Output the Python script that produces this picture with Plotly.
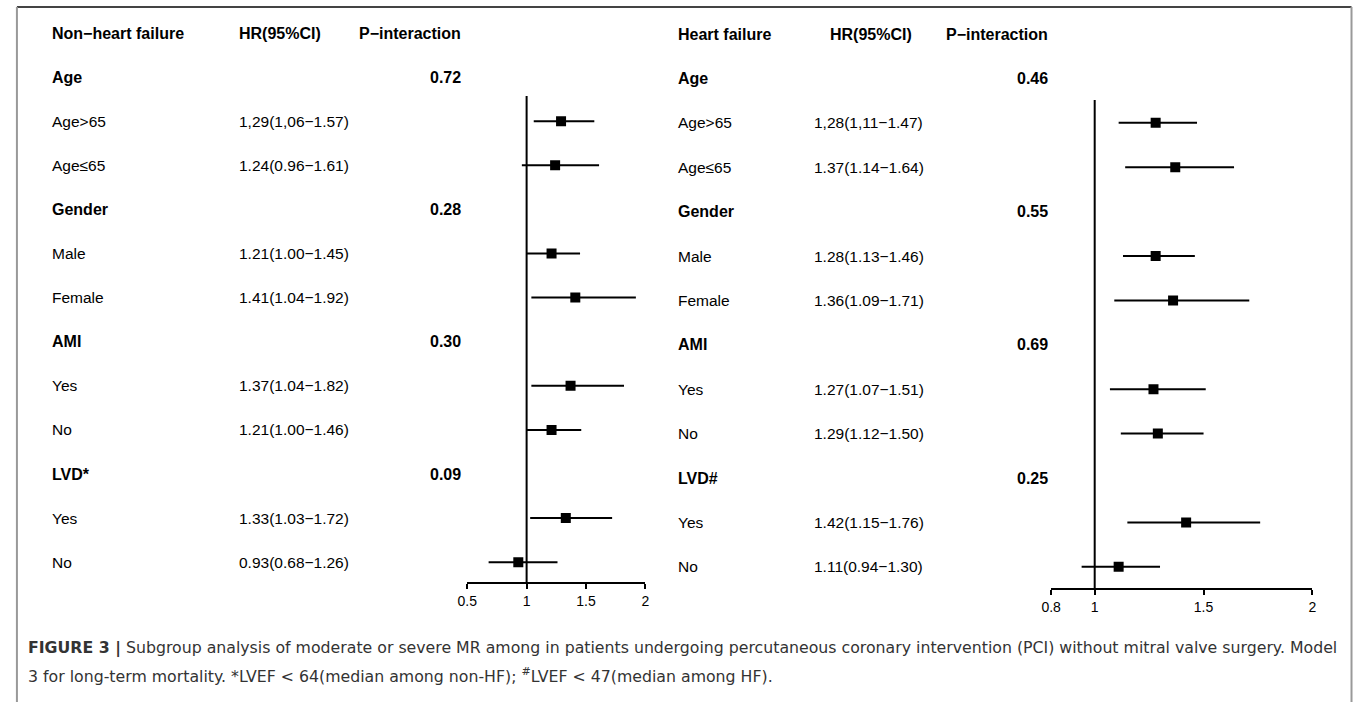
import plotly.graph_objects as go

W, H = 1357, 702

# ---------------- data ----------------
nhf_labels = ["Age", "Age>65", "Age≤65", "Gender", "Male", "Female", "AMI", "Yes", "No", "LVD*", "Yes", "No"]
nhf_is_header = [True, False, False, True, False, False, True, False, False, True, False, False]
nhf_hr_text = ["", "1,29(1,06−1.57)", "1.24(0.96−1.61)", "", "1.21(1.00−1.45)", "1.41(1.04−1.92)",
               "", "1.37(1.04−1.82)", "1.21(1.00−1.46)", "", "1.33(1.03−1.72)", "0.93(0.68−1.26)"]
nhf_p = ["0.72", "", "", "0.28", "", "", "0.30", "", "", "0.09", "", ""]
nhf_hr = [None, 1.29, 1.24, None, 1.21, 1.41, None, 1.37, 1.21, None, 1.33, 0.93]
nhf_lo = [None, 1.06, 0.96, None, 1.00, 1.04, None, 1.04, 1.00, None, 1.03, 0.68]
nhf_hi = [None, 1.57, 1.61, None, 1.45, 1.92, None, 1.82, 1.46, None, 1.72, 1.26]

hf_labels = ["Age", "Age>65", "Age≤65", "Gender", "Male", "Female", "AMI", "Yes", "No", "LVD#", "Yes", "No"]
hf_is_header = nhf_is_header
hf_hr_text = ["", "1,28(1,11−1.47)", "1.37(1.14−1.64)", "", "1.28(1.13−1.46)", "1.36(1.09−1.71)",
              "", "1.27(1.07−1.51)", "1.29(1.12−1.50)", "", "1.42(1.15−1.76)", "1.11(0.94−1.30)"]
hf_p = ["0.46", "", "", "0.55", "", "", "0.69", "", "", "0.25", "", ""]
hf_hr = [None, 1.28, 1.37, None, 1.28, 1.36, None, 1.27, 1.29, None, 1.42, 1.11]
hf_lo = [None, 1.11, 1.14, None, 1.13, 1.09, None, 1.07, 1.12, None, 1.15, 0.94]
hf_hi = [None, 1.47, 1.64, None, 1.46, 1.71, None, 1.51, 1.50, None, 1.76, 1.30]

nhf_ticks = [0.5, 1, 1.5, 2]
hf_ticks = [0.8, 1, 1.5, 2]

caption_1 = ("<b>FIGURE 3 |</b> Subgroup analysis of moderate or severe MR among in patients undergoing "
             "percutaneous coronary intervention (PCI) without mitral valve surgery. Model")
caption_2 = "3 for long-term mortality. *LVEF < 64(median among non-HF); <sup>#</sup>LVEF < 47(median among HF)."

# ---------------- layout helpers ----------------
FONT = "Liberation Sans, Arial, Helvetica, sans-serif"
CAP_FONT = "DejaVu Sans, Liberation Sans, Arial, sans-serif"


def px(x):
    return x / W


def py(y):
    return 1 - y / H


# row geometry (pixels): header row at y0, each row dy apart
L_Y0, L_DY = 33, 44.1
R_Y0, R_DY = 34, 44.4

fig = go.Figure()


def add_panel(hr, lo, hi, xa, ya):
    rows = [i + 1 for i, v in enumerate(hr) if v is not None]
    xs = [v for v in hr if v is not None]
    plus = [h - m for h, m in zip(hi, hr) if m is not None]
    minus = [m - l for l, m in zip(lo, hr) if m is not None]
    fig.add_trace(go.Scatter(
        x=xs, y=rows, mode="markers", xaxis=xa, yaxis=ya,
        marker=dict(symbol="square", size=10, color="black"),
        error_x=dict(type="data", symmetric=False, array=plus, arrayminus=minus,
                     thickness=2, width=0, color="black"),
        showlegend=False, hoverinfo="x+y"))


add_panel(nhf_hr, nhf_lo, nhf_hi, "x", "y")
add_panel(hf_hr, hf_lo, hf_hi, "x2", "y2")

axis_common = dict(showgrid=False, zeroline=False, showline=True, linecolor="black", linewidth=2,
                   ticks="outside", ticklen=5, tickwidth=2, tickcolor="black",
                   tickfont=dict(family=FONT, size=14, color="black"), anchor="free")

fig.update_layout(
    width=W, height=H, margin=dict(l=0, r=0, t=0, b=0),
    paper_bgcolor="white", plot_bgcolor="rgba(0,0,0,0)",
    xaxis=dict(domain=[px(462), px(642)], range=[0.5, 2], tickvals=nhf_ticks,
               ticktext=[str(t) for t in nhf_ticks], position=py(583), **axis_common),
    xaxis2=dict(domain=[px(1052), px(1316)], range=[0.8, 2], tickvals=hf_ticks,
                ticktext=[str(t) for t in hf_ticks], position=py(589), **axis_common),
    yaxis=dict(domain=[0, 1], range=[(H - L_Y0) / L_DY, -L_Y0 / L_DY], visible=False),
    yaxis2=dict(domain=[0, 1], range=[(H - R_Y0) / R_DY, -R_Y0 / R_DY], visible=False,
                overlaying="y", anchor="x2"),
)

# reference lines at HR = 1
fig.add_shape(type="line", xref="x", yref="paper", x0=1, x1=1, y0=py(583), y1=py(96),
              line=dict(color="black", width=2))
fig.add_shape(type="line", xref="x2", yref="paper", x0=1, x1=1, y0=py(589), y1=py(100),
              line=dict(color="black", width=2))

# frame
fig.add_shape(type="line", xref="paper", yref="paper", x0=px(7), x1=px(1355.5), y0=py(7), y1=py(7),
              line=dict(color="#444", width=2))
fig.add_shape(type="line", xref="paper", yref="paper", x0=px(7), x1=px(7), y0=py(7), y1=0,
              line=dict(color="#999", width=2))
fig.add_shape(type="line", xref="paper", yref="paper", x0=px(1355.5), x1=px(1355.5), y0=py(7), y1=0,
              line=dict(color="#999", width=2))


def txt(x, y, s, yref, bold=False, anchor="left", size=15.5):
    fig.add_annotation(x=px(x), y=y, xref="paper", yref=yref, text=("<b>%s</b>" % s) if bold else s,
                       showarrow=False, xanchor=anchor, yanchor="middle",
                       font=dict(family=FONT, size=size, color="black"))


# headers
txt(40, 0, "Non−heart failure", "y", bold=True, size=16)
txt(229, 0, "HR(95%CI)", "y", bold=True, size=16)
txt(458, 0, "P−interaction", "y", bold=True, anchor="right", size=16)
txt(673, 0, "Heart failure", "y2", bold=True, size=16)
txt(827, 0, "HR(95%CI)", "y2", bold=True, size=16)
txt(1051, 0, "P−interaction", "y2", bold=True, anchor="right", size=16)

for i in range(12):
    r = i + 1
    txt(40, r, nhf_labels[i], "y", bold=nhf_is_header[i], size=16 if nhf_is_header[i] else 15.5)
    if nhf_hr_text[i]:
        txt(229, r, nhf_hr_text[i], "y")
    if nhf_p[i]:
        txt(458, r, nhf_p[i], "y", bold=True, anchor="right", size=16)
    txt(673, r, hf_labels[i], "y2", bold=hf_is_header[i], size=16 if hf_is_header[i] else 15.5)
    if hf_hr_text[i]:
        txt(810, r, hf_hr_text[i], "y2")
    if hf_p[i]:
        txt(1051, r, hf_p[i], "y2", bold=True, anchor="right", size=16)

# caption
fig.add_annotation(x=px(16), y=py(648), xref="paper", yref="paper", text=caption_1, showarrow=False,
                   xanchor="left", yanchor="middle", font=dict(family=CAP_FONT, size=15.75, color="#333"))
fig.add_annotation(x=px(16), y=py(675), xref="paper", yref="paper", text=caption_2, showarrow=False,
                   xanchor="left", yanchor="middle", font=dict(family=CAP_FONT, size=15.75, color="#333"))

fig.write_html("out.html", config={"displayModeBar": False},
               post_script="document.body.style.margin='0';document.body.style.overflow='hidden';")
